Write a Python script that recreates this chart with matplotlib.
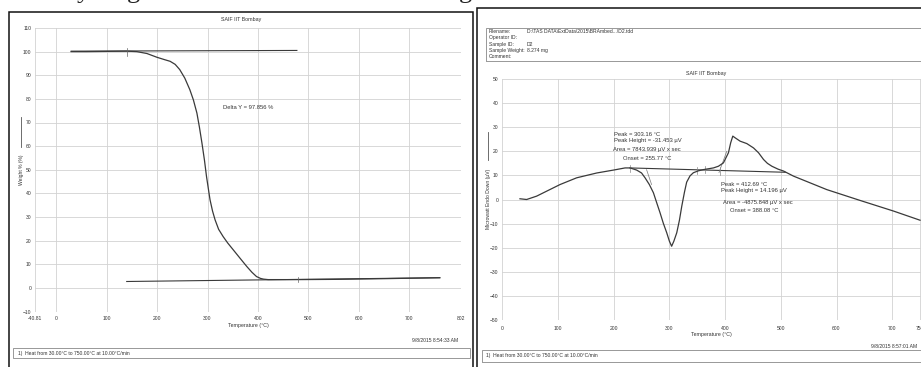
"""
TGA / DSC scan recreation (SAIF IIT Bombay)
"""

import matplotlib
matplotlib.use("Agg")
import matplotlib.pyplot as plt
from matplotlib.lines import Line2D
from matplotlib.patches import Rectangle

plt.rcParams['font.family'] = ['Liberation Sans', 'DejaVu Sans']

# ---- TGA data (left) ----
tga_temp = [30, 60, 100, 140, 160, 180, 200, 215, 226, 236, 245, 255, 265,
            272, 279, 284, 289, 294, 298, 302, 305, 310, 315, 322, 331, 340,
            351, 365, 378, 388, 397, 405, 411, 420, 430, 480, 550, 650, 760]
tga_weight = [100.0, 100.0, 100.1, 100.2, 100.0, 99.2, 97.6, 96.6, 95.9, 94.6,
              92.4, 88.8, 83.9, 79.6, 74.0, 68.0, 61.3, 54.0, 47.2, 41.5, 37.3,
              32.5, 28.8, 24.8, 21.7, 19.0, 16.1, 12.4, 9.0, 6.6, 4.8, 4.0, 3.7,
              3.5, 3.5, 3.5, 3.6, 3.9, 4.3]
tga_top_temp = [30, 477]
tga_top_val = [100.2, 100.5]
tga_bot_temp = [140, 760]
tga_bot_val = [2.7, 4.3]
tga_marks = [(140, 98.2, 101.6), (479, 2.3, 4.6)]
tga_xticks = [-40.81, 0, 100, 200, 300, 400, 500, 600, 700, 802]
tga_xlabels = ['-40.81', '0', '100', '200', '300', '400', '500', '600', '700', '802']
tga_yticks = list(range(-10, 111, 10))

# ---- DSC data (right) ----
dsc_temp = [31.7, 43.7, 61.7, 80, 103.6, 133.5, 169.5, 199.4, 220.4, 229.3,
            241.3, 250, 256.3, 264, 271.3, 277, 283.2, 289, 295.2, 300, 304, 308,
            313.2, 318, 322.2, 327, 331, 337, 343, 352, 361, 379, 388, 397, 403,
            406, 410, 413.8, 418, 427, 439, 451, 460, 469, 476, 484, 495, 505,
            522.8, 582.6, 642.5, 702.4, 750]
dsc_signal = [0.3, 0.0, 1.4, 3.5, 6.2, 9.0, 11.0, 12.2, 13.1, 13.1,
              12.2, 11.0, 9.0, 6.2, 2.8, -1.2, -5.5, -9.8, -13.8, -17.3, -19.4,
              -17.3, -13.8, -8.6, -2.8, 3.0, 7.2, 9.8, 11.1, 11.9, 12.4, 13.1,
              13.8, 15.2, 18.0, 19.4, 23.5, 26.3, 25.6, 24.2, 23.2, 21.4, 19.4,
              16.6, 15.0, 13.8, 12.6, 11.8, 9.7, 4.1, -0.4, -4.8, -8.6]
dsc_base_temp = [229, 508]
dsc_base_val = [13.1, 11.3]
dsc_tangents = [([259, 268], [12.4, 6.2]), ([389, 403], [11.2, 20.0])]
dsc_marks = [(229, 11.6, 14.4), (349, 10.4, 13.4), (364, 10.8, 14.0), (390, 10.2, 13.6)]
dsc_xticks = [0, 100, 200, 300, 400, 500, 600, 700, 750]
dsc_yticks = list(range(-50, 51, 10))

header_keys = ['Filename:', 'Operator ID:', 'Sample ID:', 'Sample Weight:', 'Comment:']
header_vals = ['D:\\TAS DATA\\ExtData\\2015\\BRAmbed...\\D2.tdd', '', 'D2', '8.274 mg', '']

W, H = 921, 367
LINE = '#3a3a3a'
GRID = '#d2d2d2'
TXT = '#333333'


def fx(px):
    return px / W


def fy(py):
    return 1 - py / H


def add_axes_px(fig, left, right, top, bottom):
    return fig.add_axes([fx(left), fy(bottom), (right - left) / W, (bottom - top) / H])


def style_axes(ax, xticks, xlabels, yticks, xpad, ypad):
    for s in ax.spines.values():
        s.set_visible(False)
    ax.set_xticks(xticks)
    ax.set_xticklabels(xlabels)
    ax.set_yticks(yticks)
    ax.tick_params(length=0, labelsize=3.6, labelcolor=TXT)
    ax.tick_params(axis='x', pad=xpad)
    ax.tick_params(axis='y', pad=ypad)
    ax.grid(True, color=GRID, linewidth=0.6)
    ax.set_facecolor('none')


def ylabel_with_line(fig, x, text_y, line_y0, line_y1, text):
    fig.text(fx(x), fy(text_y), text, rotation=90, fontsize=3.6, color=TXT,
             ha='center', va='center')
    fig.add_artist(Line2D([fx(x), fx(x)], [fy(line_y0), fy(line_y1)],
                          color='#555555', linewidth=0.6))


fig = plt.figure(figsize=(W / 100, H / 100), dpi=100)
fig.patch.set_facecolor('white')

# caption fragments cut off at the top of the scan
for xp, ch in [(77, 'y'), (127, 'g'), (459, 'g')]:
    fig.text(fx(xp), fy(-2), ch, fontsize=19, family='Liberation Serif',
             color='#222222', va='baseline')

# panel borders
fig.add_artist(Rectangle((fx(9), fy(380)), (473 - 9) / W, (380 - 12) / H,
                         fill=False, edgecolor='#111111', linewidth=1.1))
fig.add_artist(Rectangle((fx(477), fy(380)), (940 - 477) / W, (380 - 8) / H,
                         fill=False, edgecolor='#111111', linewidth=1.1))

# ---------------- left: TGA ----------------
ax1 = add_axes_px(fig, 35.4, 461, 28, 311.5)
style_axes(ax1, tga_xticks, tga_xlabels, tga_yticks, xpad=3.5, ypad=3)
ax1.set_xlim(-40.81, 802)
ax1.set_ylim(-10, 110)
ax1.plot(tga_top_temp, tga_top_val, color=LINE, linewidth=0.8)
ax1.plot(tga_bot_temp, tga_bot_val, color=LINE, linewidth=0.8)
ax1.plot(tga_temp, tga_weight, color=LINE, linewidth=0.9)
for t, v0, v1 in tga_marks:
    ax1.plot([t, t], [v0, v1], color='#666666', linewidth=0.5)
ax1.text(330, 76.5, 'Delta Y = 97.856 %', fontsize=4.2, color=TXT, va='center')

fig.text(fx(241), fy(19), 'SAIF IIT Bombay', fontsize=3.8, color=TXT, ha='center', va='center')
fig.text(fx(248), fy(326), 'Temperature (°C)', fontsize=3.8, color=TXT, ha='center', va='center')
ylabel_with_line(fig, 21, 170, 117, 147, 'Weight % (%)')
fig.text(fx(458), fy(340.5), '9/8/2015 8:54:33 AM', fontsize=3.6, color=TXT, ha='right', va='center')
fig.add_artist(Rectangle((fx(13), fy(358)), (470 - 13) / W, 10 / H,
                         fill=False, edgecolor='#888888', linewidth=0.6))
fig.text(fx(18), fy(353), '1)  Heat from 30.00°C to 750.00°C at 10.00°C/min',
         fontsize=3.6, color=TXT, va='center')

# ---------------- right: DSC ----------------
fig.add_artist(Rectangle((fx(486), fy(60.7)), (930 - 486) / W, (60.7 - 28.3) / H,
                         fill=False, edgecolor='#888888', linewidth=0.6))
for i, (k, v) in enumerate(zip(header_keys, header_vals)):
    ypix = 31.7 + i * 6.25
    fig.text(fx(489), fy(ypix), k, fontsize=3.6, color=TXT, va='center')
    fig.text(fx(527), fy(ypix), v, fontsize=3.6, color=TXT, va='center')

ax2 = add_axes_px(fig, 502.3, 502.3 + 755 * 0.557, 79, 320)
style_axes(ax2, dsc_xticks, [str(t) for t in dsc_xticks], dsc_yticks, xpad=4, ypad=3)
ax2.set_xlim(0, 755)
ax2.set_ylim(-50, 50)
ax2.plot(dsc_base_temp, dsc_base_val, color=LINE, linewidth=0.8)
for tx, ty in dsc_tangents:
    ax2.plot(tx, ty, color='#777777', linewidth=0.5)
for t, v0, v1 in dsc_marks:
    ax2.plot([t, t], [v0, v1], color='#888888', linewidth=0.5)
ax2.plot(dsc_temp, dsc_signal, color=LINE, linewidth=0.9)

ann = dict(fontsize=4.2, color=TXT, va='center')
ax2.text(201, 27.0, 'Peak = 303.16 °C', **ann)
ax2.text(201, 24.4, 'Peak Height = -31.453 µV', **ann)
ax2.text(198, 20.6, 'Area = 7843.939 µV x sec', **ann)
ax2.text(217, 17.0, 'Onset = 255.77 °C', **ann)
ax2.text(392, 6.3, 'Peak = 412.69 °C', **ann)
ax2.text(392, 3.8, 'Peak Height = 14.196 µV', **ann)
ax2.text(396, -1.2, 'Area = -4875.848 µV x sec', **ann)
ax2.text(408, -4.6, 'Onset = 388.08 °C', **ann)

fig.text(fx(705.7), fy(73), 'SAIF IIT Bombay', fontsize=3.8, color=TXT, ha='center', va='center')
fig.text(fx(711), fy(334.5), 'Temperature (°C)', fontsize=3.8, color=TXT, ha='center', va='center')
ylabel_with_line(fig, 488, 199, 132, 160, 'Microwatt Endo Down (µV)')
fig.text(fx(917), fy(347), '9/8/2015 8:57:01 AM', fontsize=3.6, color=TXT, ha='right', va='center')
fig.add_artist(Rectangle((fx(482), fy(362)), (930 - 482) / W, 12 / H,
                         fill=False, edgecolor='#888888', linewidth=0.6))
fig.text(fx(486), fy(356), '1)  Heat from 30.00°C to 750.00°C at 10.00°C/min',
         fontsize=3.6, color=TXT, va='center')

plt.savefig('out.png', dpi=100)
plt.close()
